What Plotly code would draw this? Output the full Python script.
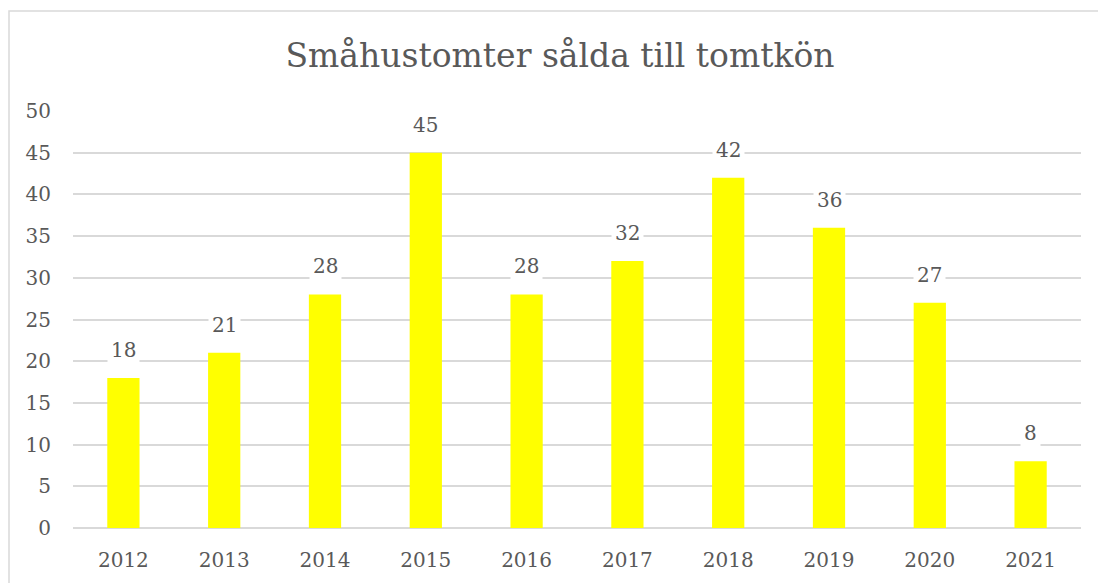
import plotly.graph_objects as go

years = ["2012", "2013", "2014", "2015", "2016", "2017", "2018", "2019", "2020", "2021"]
values = [18, 21, 28, 45, 28, 32, 42, 36, 27, 8]
title_text = "Småhustomter sålda till tomtkön"

FONT = "DejaVu Serif"
GREY = "#595959"

fig = go.Figure()
fig.add_trace(go.Bar(x=years, y=values, marker=dict(color="#FFFF00", line=dict(width=0)),
                     hoverinfo="x+y"))

for i, v in enumerate(values):
    fig.add_annotation(x=i, y=v, xref="x", yref="y", text=str(v), showarrow=False,
                       yanchor="bottom", yshift=12, bgcolor="white", borderpad=3,
                       font=dict(family=FONT, size=20, color=GREY))

L, R, T, B = 73, 17, 111, 55
W, H = 1098, 583
pw, ph = W - L - R, H - T - B
fig.add_shape(type="rect", xref="paper", yref="paper",
              x0=(9 - L) / pw, x1=(1200 - L) / pw,
              y0=(H - B - 700) / ph, y1=(H - B - 11) / ph,
              line=dict(color="#D9D9D9", width=1.5), layer="below")

fig.update_layout(
    width=W, height=H,
    margin=dict(l=L, r=R, t=T, b=B),
    paper_bgcolor="white", plot_bgcolor="white",
    bargap=0.68,
    showlegend=False,
    title=dict(text=title_text, x=560 / W, xref="container", xanchor="center",
               y=1 - 55 / H, yanchor="middle",
               font=dict(family=FONT, size=33, color=GREY)),
    xaxis=dict(type="category", range=[-0.5, len(years) - 0.5], showgrid=False,
               showline=False, ticks="",
               tickfont=dict(family=FONT, size=20, color=GREY), ticklabelstandoff=18),
    yaxis=dict(range=[0, 50], dtick=5, showgrid=True, gridcolor="#D9D9D9", gridwidth=1.5,
               zeroline=True, zerolinecolor="#D9D9D9", zerolinewidth=1.5,
               showline=False, ticks="",
               tickfont=dict(family=FONT, size=20, color=GREY), ticklabelstandoff=21),
    font=dict(family=FONT, color=GREY),
)

fig.write_html("out.html")
